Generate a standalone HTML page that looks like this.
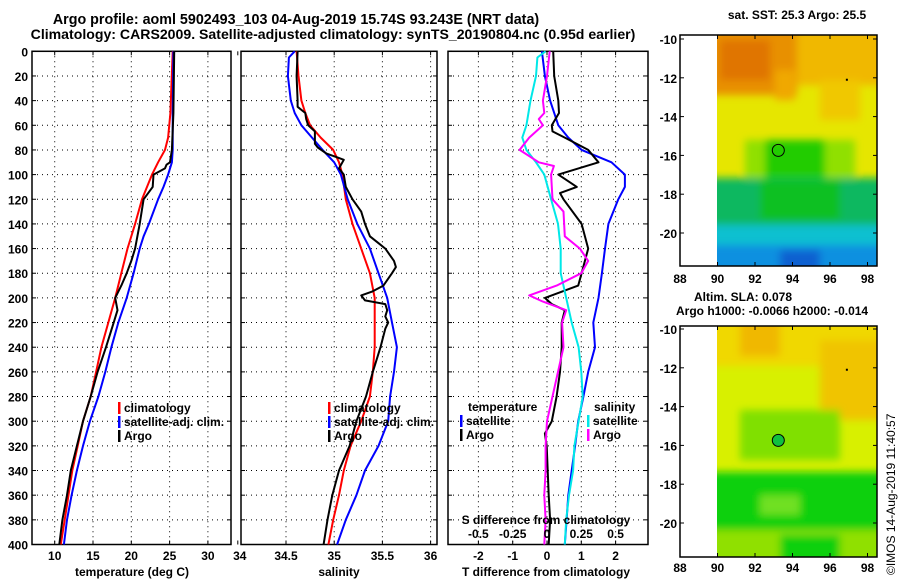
<!DOCTYPE html>
<html><head><meta charset="utf-8"><style>
body{margin:0;background:#fff;}
svg{display:block;font-family:"Liberation Sans",sans-serif;font-weight:bold;}
</style></head><body>
<svg id="c" width="900" height="580" viewBox="0 0 900 580" xmlns="http://www.w3.org/2000/svg">
<defs>
<filter id="bl" x="-10%" y="-10%" width="120%" height="120%"><feGaussianBlur stdDeviation="4"/></filter>
<clipPath id="m1c"><rect x="717" y="35" width="160" height="231"/></clipPath>
<clipPath id="m2c"><rect x="717" y="326" width="160" height="231"/></clipPath>
</defs>
<text x="296" y="24" font-size="14.3" text-anchor="middle">Argo profile: aoml 5902493_103 04-Aug-2019 15.74S 93.243E (NRT data)</text>
<text x="333" y="39" font-size="14.1" text-anchor="middle">Climatology: CARS2009. Satellite-adjusted climatology: synTS_20190804.nc (0.95d earlier)</text>

<g id="map1" clip-path="url(#m1c)">
<rect x="717" y="35" width="160" height="231" fill="#e6e600"/>
<g filter="url(#bl)">
<rect x="700" y="20" width="190" height="65" fill="#f0b800"/>
<rect x="700" y="20" width="97" height="75" fill="#e89000"/>
<rect x="720" y="40" width="50" height="40" fill="#e07400"/>
<rect x="775" y="70" width="20" height="30" fill="#f0a800"/>
<rect x="820" y="80" width="40" height="40" fill="#f0c800"/>
<rect x="745" y="140" width="110" height="40" fill="#90e000"/>
<rect x="765" y="140" width="60" height="40" fill="#20cc00"/>
<rect x="700" y="178" width="190" height="57" fill="#10b860"/>
<rect x="760" y="180" width="80" height="40" fill="#10c020"/>
<rect x="700" y="225" width="190" height="50" fill="#10c0d0"/>
<rect x="700" y="245" width="190" height="30" fill="#1090e0"/>
<rect x="780" y="250" width="40" height="25" fill="#1060d0"/>
</g>
</g>
<g id="map2" clip-path="url(#m2c)">
<rect x="717" y="326" width="160" height="231" fill="#d8f000"/>
<g filter="url(#bl)">
<rect x="700" y="310" width="190" height="56" fill="#f0d800"/>
<rect x="740" y="320" width="40" height="36" fill="#f0b800"/>
<rect x="820" y="340" width="70" height="80" fill="#f0c400"/>
<rect x="740" y="410" width="100" height="50" fill="#80e000"/>
<rect x="700" y="472" width="190" height="58" fill="#10d010"/>
<rect x="760" y="495" width="40" height="20" fill="#70e020"/>
<rect x="700" y="530" width="190" height="40" fill="#90e000"/>
<rect x="780" y="535" width="60" height="30" fill="#10d010"/>
</g>
</g>
<g id="axes"></g>
<text x="797" y="19" font-size="12" text-anchor="middle">sat. SST: 25.3 Argo: 25.5</text>
<text x="694" y="301" font-size="12">Altim. SLA: 0.078</text>
<text x="676" y="315" font-size="12">Argo h1000: -0.0066 h2000: -0.014</text>
<text transform="translate(895,575) rotate(-90)" font-size="12" font-weight="normal">©IMOS 14-Aug-2019 11:40:57</text>
</svg>
<script>
// ---- data ----
const tempDepth = [0,50,70,80,90,100,120,140,160,180,200,220,240,260,280,300,320,340,360,380,400];
const tempClim = [25.4,25.1,24.8,24.4,23.5,22.7,21.4,20.5,19.5,18.7,17.9,17.0,16.1,15.4,14.7,13.7,13.0,12.3,11.8,11.3,10.8];
const tempSatDepth = [0,50,80,90,100,110,120,140,150,160,180,200,220,240,260,280,300,320,340,360,380,400];
const tempSat = [25.5,25.4,25.4,25.3,24.8,24.2,23.5,22.3,21.6,21.1,20.3,19.4,18.3,17.4,16.6,15.7,14.6,13.7,12.9,12.2,11.6,11.2];
const argoDepth = [0,50,80,90,92,95,100,110,115,120,140,160,170,180,190,200,210,220,240,260,280,300,320,340,360,380,400];
const argoTemp = [25.6,25.5,25.3,25.05,24.6,24.4,22.9,22.8,22.2,21.6,21.1,20.5,20.0,19.4,18.7,17.9,18.2,17.7,16.7,15.6,14.7,13.7,12.9,12.1,11.6,11.0,10.6];
const salClimDepth = [0,20,40,50,60,70,80,90,100,120,140,160,180,200,240,260,280,300,320,340,360,380,400];
const salClim = [34.61,34.63,34.66,34.70,34.75,34.86,34.99,35.05,35.085,35.12,35.19,35.28,35.37,35.42,35.42,35.40,35.37,35.28,35.17,35.10,35.05,34.99,34.94];
const salSatDepth = [0,5,20,40,50,60,70,80,90,100,120,140,160,180,200,220,240,260,280,300,320,340,360,380,400];
const salSat = [34.59,34.53,34.52,34.55,34.59,34.66,34.77,34.88,35.0,35.07,35.14,35.24,35.37,35.46,35.55,35.60,35.65,35.62,35.58,35.56,35.46,35.32,35.23,35.12,35.03];
const salArgoDepth = [0,20,40,45,50,55,60,65,75,78,83,86,88,95,100,110,120,130,140,150,160,170,175,180,190,195,198,202,205,210,215,220,225,240,260,280,300,320,340,360,380,400];
const salArgo = [34.62,34.61,34.62,34.62,34.70,34.71,34.73,34.80,34.80,34.83,34.92,35.03,35.10,35.05,35.10,35.12,35.19,35.28,35.32,35.37,35.53,35.62,35.64,35.60,35.51,35.39,35.28,35.32,35.53,35.55,35.53,35.56,35.53,35.48,35.40,35.33,35.23,35.16,35.05,34.98,34.93,34.89];
const dTSatDepth = [0,20,40,60,70,80,90,100,110,120,140,160,180,200,220,240,260,280,300,320,340,360,380,400];
const dTSat = [-0.15,-0.06,0.09,0.33,0.62,1.01,1.88,2.27,2.27,2.08,1.79,1.69,1.6,1.5,1.35,1.4,1.2,1.06,0.91,0.82,0.72,0.62,0.57,0.52];
const dTArgoDepth = [0,20,40,50,60,65,70,80,90,100,110,115,120,140,160,180,190,200,205,210,220,240,260,280,300,310,320,340,360,380,400];
const dTArgo = [0.18,0.21,0.33,0.35,0.14,0.16,0.52,1.20,1.5,0.33,0.87,0.38,0.48,1.01,1.2,1.01,0.91,-0.06,0.14,0.52,0.43,0.43,0.38,0.28,0.14,-0.06,-0.01,0.02,0.05,0.09,0.05];
const dSSatDepth = [0,5,20,40,60,70,80,90,100,120,140,160,180,200,220,240,260,280,300,320,340,360,380,400];
const dSSat = [-0.01,-0.07,-0.08,-0.12,-0.15,-0.18,-0.15,-0.08,-0.02,0.03,0.08,0.10,0.10,0.14,0.18,0.23,0.25,0.26,0.23,0.20,0.19,0.16,0.14,0.13];
const dSArgoDepth = [0,20,40,50,55,60,70,80,90,93,100,120,130,150,160,170,180,190,198,203,210,220,240,260,280,300,320,340,360,380,400];
const dSArgo = [0.02,0.0,-0.03,-0.02,-0.06,-0.03,-0.13,-0.20,-0.06,0.05,0.03,0.04,0.12,0.13,0.24,0.30,0.25,0.07,-0.13,-0.03,0.14,0.11,0.12,0.08,0.04,0.0,-0.01,-0.01,-0.02,-0.01,-0.02];
const depthTicks = [0,20,40,60,80,100,120,140,160,180,200,220,240,260,280,300,320,340,360,380,400];
const tempTicks = [10,15,20,25,30];
const salTicks = [34,34.5,35,35.5,36];
const salTickLabels = ["34","34.5","35","35.5","36"];
const dTTicks = [-2,-1,0,1,2];
const dSTicks = [-0.5,-0.25,0,0.25,0.5];
const dSTickLabels = ["-0.5","-0.25","0","0.25","0.5"];
const latTicks = [-10,-12,-14,-16,-18,-20];
const lonTicks = [88,90,92,94,96,98];
const argoLon = 93.243, argoLat = -15.74;

// ---- scales ----
const NS = "http://www.w3.org/2000/svg";
const svg = document.getElementById('c');
const ax = document.getElementById('axes');
const yD = d => 51.3 + d*1.233;
const xT = t => 54.7 + (t-10)*7.66;
const xS = s => 237.8 + (s-34)*96.4;
const xDT = t => 547 + t*34.3;
const xDS = s => 547 + s*137.2;
const lonX = lo => 680 + (lo-88)*18.75;
const latY1 = la => 39 + (-10-la)*19.4;
const latY2 = la => 329 + (-10-la)*19.4;

function mk(tag, attrs, parent){const e=document.createElementNS(NS,tag);for(const k in attrs)e.setAttribute(k,attrs[k]);(parent||ax).appendChild(e);return e;}
function txt(x,y,s,anchor,size){const e=mk('text',{x:x,y:y,'font-size':size||12,'text-anchor':anchor||'middle'});e.textContent=s;return e;}

function panel(name,x0,x1,xTicks,xs){
  const g=mk('g',{});
  
  
  depthTicks.forEach(d=>{ if(d>0&&d<400){const l=mk('line',{x1:x0,x2:x1,y1:yD(d),y2:yD(d),stroke:'#000','stroke-dasharray':'1,4','stroke-width':1},g);
    
    }
    mk('line',{x1:x0,x2:x0+4,y1:yD(d),y2:yD(d),stroke:'#000'},g);
    mk('line',{x1:x1-4,x2:x1,y1:yD(d),y2:yD(d),stroke:'#000'},g);});
  xTicks.forEach(v=>{const x=xs(v); if(x>x0+1&&x<x1-1){const l=mk('line',{x1:x,x2:x,y1:yD(0),y2:yD(400),stroke:'#000','stroke-dasharray':'1,4'},g);
    
    }
    mk('line',{x1:x,x2:x,y1:yD(400)-4,y2:yD(400),stroke:'#000'},g);
    mk('line',{x1:x,x2:x,y1:yD(0),y2:yD(0)+4,stroke:'#000'},g);});
  const f=mk('rect',{x:x0,y:yD(0),width:x1-x0,height:yD(400)-yD(0),fill:'none',stroke:'#000','stroke-width':1.5},g);
  
  
  return g;
}
function line(g,name,xs,vals,depths,color,w){
  const pts=vals.map((v,i)=>xs(v).toFixed(1)+','+yD(depths[i]).toFixed(1)).join(' ');
  const p=mk('polyline',{points:pts,fill:'none',stroke:color,'stroke-width':w||2,'stroke-linejoin':'round'},g);
  
  
}
function legend(x,y,items){items.forEach((it,i)=>{const yy=y+i*14;
  const b=mk('rect',{x:x,y:yy-10,width:2.5,height:12,fill:it[1]});
  
  
  const t=txt(x+6,yy,it[0],'start');
  
  });}

// panel 1
const g1=panel('temperature-panel',32,231,tempTicks,xT);
line(g1,'temp-climatology-line',xT,tempClim,tempDepth,'#ff0000');
line(g1,'temp-satellite-line',xT,tempSat,tempSatDepth,'#0000ff');
line(g1,'temp-argo-line',xT,argoTemp,argoDepth,'#000000');
depthTicks.forEach(d=>{const t=txt(28,yD(d)+5,String(d),'end');});
tempTicks.forEach(v=>{const t=txt(xT(v),560,String(v));});
let t1=txt(132,576,'temperature (deg C)');
legend(118,412,[['climatology','#ff0000'],['satellite-adj. clim.','#0000ff'],['Argo','#000']]);

// panel 2
const g2=panel('salinity-panel',241,437,salTicks,xS);
line(g2,'sal-climatology-line',xS,salClim,salClimDepth,'#ff0000');
line(g2,'sal-satellite-line',xS,salSat,salSatDepth,'#0000ff');
line(g2,'sal-argo-line',xS,salArgo,salArgoDepth,'#000000');
salTicks.forEach((v,i)=>{const t=txt(xS(v)+(i==0?2:0),560,salTickLabels[i]);});
let t2=txt(339,576,'salinity');
legend(328,412,[['climatology','#ff0000'],['satellite-adj. clim.','#0000ff'],['Argo','#000']]);

// panel 3
const g3=panel('difference-panel',448,648,dTTicks,xDT);
line(g3,'dT-satellite-line',xDT,dTSat,dTSatDepth,'#0000ff');
line(g3,'dT-argo-line',xDT,dTArgo,dTArgoDepth,'#000000');
line(g3,'dS-satellite-line',xDS,dSSat,dSSatDepth,'#00e8e8');
line(g3,'dS-argo-line',xDS,dSArgo,dSArgoDepth,'#ff00ff');
dTTicks.forEach(v=>{const t=txt(xDT(v),560,String(v));});
dSTicks.forEach((v,i)=>{const t=txt(xDS(v),538,dSTickLabels[i]);});
let t3=txt(546,524,'S difference from climatology');
let t4=txt(546,576,'T difference from climatology');
let t5=txt(468,411,'temperature','start');
let t6=txt(594,411,'salinity','start');
legend(460,425,[['satellite','#0000ff'],['Argo','#000']]);
legend(587,425,[['satellite','#00e8e8'],['Argo','#ff00ff']]);

// maps
function mapAxes(name,top,bottom,latY,labelY){
  const g=mk('g',{});
  
  
  mk('rect',{x:680,y:top,width:197,height:bottom-top,fill:'none',stroke:'#000','stroke-width':1.5},g);
  latTicks.forEach(la=>{const y=latY(la);
    mk('line',{x1:680,x2:684,y1:y,y2:y,stroke:'#000'},g);mk('line',{x1:873,x2:877,y1:y,y2:y,stroke:'#000'},g);
    const t=txt(677,y+5,String(la),'end');});
  lonTicks.forEach(lo=>{const x=lonX(lo);
    mk('line',{x1:x,x2:x,y1:bottom-4,y2:bottom,stroke:'#000'},g);mk('line',{x1:x,x2:x,y1:top,y2:top+4,stroke:'#000'},g);
    const t=txt(x,labelY,String(lo));});
  const c=mk('circle',{cx:lonX(argoLon),cy:latY(argoLat),r:6,fill:name==='sla-map'?'#10c040':'none',stroke:'#000','stroke-width':1},g);
  
  
  mk('rect',{x:lonX(96.9)-1,y:latY(-12.1)-1,width:2,height:2,fill:'#000'},g);
}
mapAxes('sst-map',35,266,latY1,283);
mapAxes('sla-map',326,557,latY2,572);
</script>
</body></html>
